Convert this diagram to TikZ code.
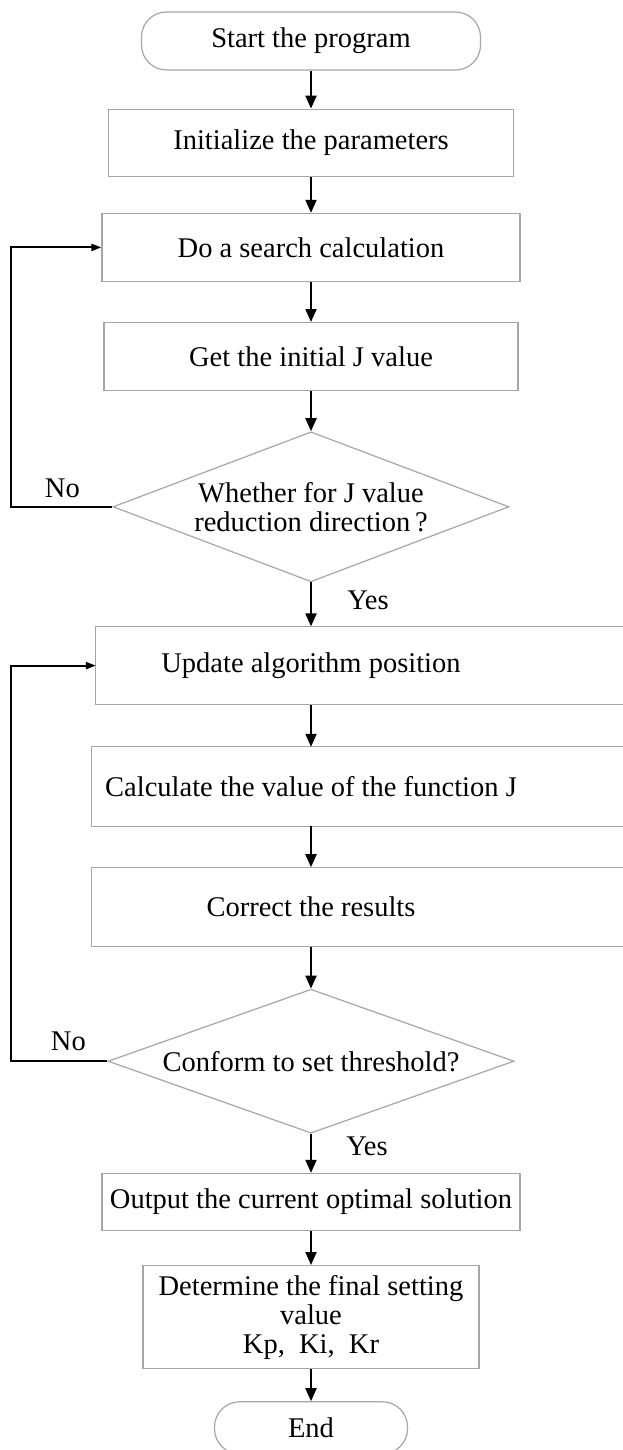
\documentclass[tikz,border=0pt]{standalone}
\usepackage{fontspec}
\setmainfont{Liberation Serif}
\usetikzlibrary{positioning,shapes.geometric,arrows.meta}

\begin{document}
\begin{tikzpicture}[x=1pt, y=1pt, node distance=40pt,
	every node/.style={font=\fontsize{28.5}{29}\selectfont},
	term/.style={draw=gray!70, line width=1.2pt, rounded corners=25pt, minimum height=58pt},
	box/.style={draw=gray!70, line width=1.2pt, minimum width=418pt, align=center},
	openbox/.style={minimum width=438pt, align=center},
	decision/.style={draw=gray!70, line width=1.2pt, diamond, aspect=2.7, inner sep=0pt, align=center},
	edge/.style={draw=gray!70, line width=1.2pt},
	line/.style={line width=2pt, -{Triangle[length=13pt,width=11pt]}},
	back/.style={line width=2pt, -{Triangle[length=10pt,width=7pt]}}]
	\useasboundingbox (0,0) rectangle (623,-1450);
	\clip (0,0) rectangle (623,-1450);
	\node[term, minimum width=339pt] (start) at (311,-41) {Start the program};
	\node[box, minimum width=405pt, minimum height=67pt] (init) [below=38pt of start] {Initialize the parameters};
	\node[box, minimum height=68pt] (search) [below=36pt of init] {Do a search calculation};
	\node[box, minimum width=414pt, minimum height=68pt] (getj) [below=of search] {Get the initial J value};
	\node[decision, minimum width=396pt, minimum height=150pt] (dec1) [below=40pt of getj] {Whether for J value\\reduction direction\,?};
	\node[openbox, minimum width=430pt, minimum height=78pt] (upd) [below=44pt of dec1] {Update algorithm position};
	\node[openbox, minimum height=79pt] (calc) [below=42pt of upd] {Calculate the value of the function J};
	\node[openbox, minimum height=79pt] (corr) [below=41pt of calc] {Correct the results};
	\node[decision, minimum width=406pt, minimum height=144pt] (dec2) [below=42pt of corr] {Conform to set threshold?};
	\node[box, minimum height=57pt] (out) [below=39pt of dec2] {Output the current optimal solution};
	\node[box, minimum width=336pt, minimum height=103pt] (det) [below=34pt of out] {Determine the final setting\\value\\Kp,~~Ki,~~Kr};
	\node[term, minimum width=193pt, minimum height=52pt] (stop) [below=32pt of det] {End};
	% boxes that run off the right edge
	\foreach \n in {upd,calc,corr}
		\draw[edge] ([xshift=120pt]\n.north east) -- (\n.north west) -- (\n.south west) -- ([xshift=120pt]\n.south east);
	\coordinate (loopx) at (11,0);
	\draw[line] (start) -- (init);
	\draw[line] (init) -- (search);
	\draw[line] (search) -- (getj);
	\draw[line] (getj) -- (dec1);
	\draw[line] (dec1) -- (upd);
	\draw[line] (upd) -- (calc);
	\draw[line] (calc) -- (corr);
	\draw[line] (corr) -- (dec2);
	\draw[line] (dec2) -- (out);
	\draw[line] (out) -- (det);
	\draw[line] (det) -- (stop);
	\draw[back] (dec1.west) -- (dec1.west -| loopx) |- (search.west);
	\draw[back] (dec2.west) -- (dec2.west -| loopx) |- (upd.west);
	\node (no1) at ([xshift=-50pt, yshift=18pt]dec1.west) {No};
	\node (yes1) at ([xshift=57pt, yshift=-18pt]dec1.south) {Yes};
	\node (no2) at ([xshift=-39pt, yshift=20pt]dec2.west) {No};
	\node (yes2) at ([xshift=56pt, yshift=-12pt]dec2.south) {Yes};
\end{tikzpicture}
\end{document}
